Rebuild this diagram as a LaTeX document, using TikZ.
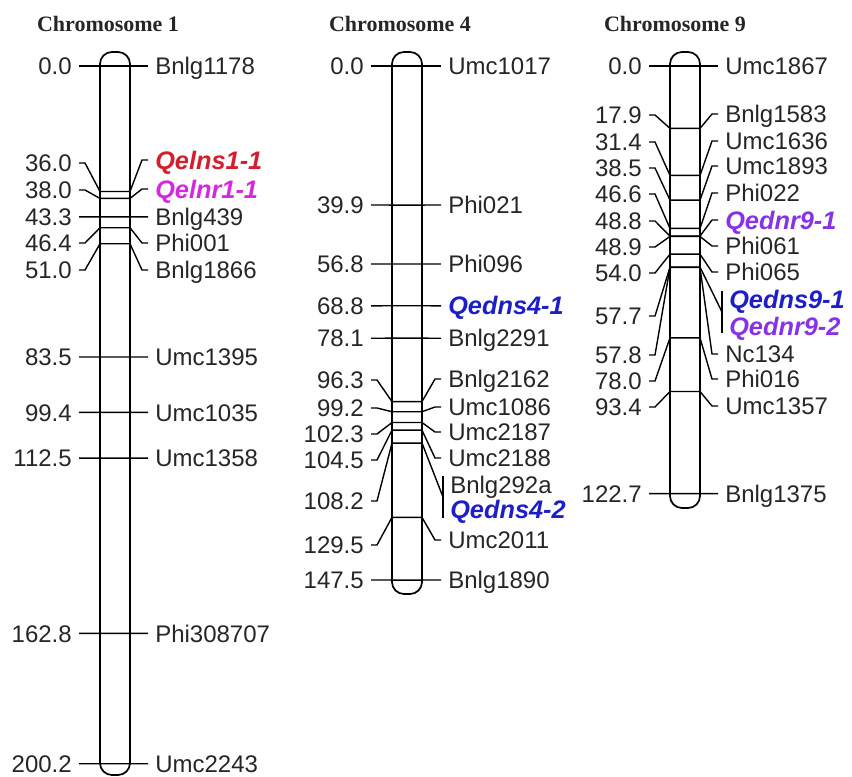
\documentclass[tikz,border=0pt]{standalone}
\usepackage{fontspec}
\setmainfont{Liberation Sans}
\newfontfamily\chrfont{Liberation Serif}

\definecolor{qtlred}{RGB}{212,30,45}
\definecolor{qtlmag}{RGB}{214,40,224}
\definecolor{qtlblue}{RGB}{30,30,200}
\definecolor{qtlpurp}{RGB}{135,50,230}

\tikzset{
  chrbar/.style={draw, line width=1.3pt, rounded corners=9pt},
  link/.style={line width=1.05pt},
  lname/.style={anchor=east, inner xsep=5.25pt, inner ysep=0pt, text height=12.9pt,
    text depth=0pt, text=black!85, font=\fontsize{18}{20}\selectfont},
  rname/.style={lname, anchor=west},
  mrk/.style={},
  qtl/.style={font=\fontsize{19}{21}\selectfont\bfseries\itshape, text height=13.6pt},
  qr/.style={qtl, text=qtlred},
  qm/.style={qtl, text=qtlmag},
  qb/.style={qtl, text=qtlblue},
  qp/.style={qtl, text=qtlpurp},
  chrtitle/.style={font=\fontsize{16.5}{18}\selectfont\chrfont\bfseries, text=black!85}
}

\begin{document}
\begin{tikzpicture}[x=0.75pt, y=-0.75pt]
\useasboundingbox (0,0) rectangle (852,776);

\node[chrtitle] (t1) at (108,24) {Chromosome 1};
\node[chrtitle] (t4) at (400,24) {Chromosome 4};
\node[chrtitle] (t9) at (675,24) {Chromosome 9};

% chromosome 1
\draw[chrbar] (100,52) rectangle (130,775);
\foreach \cm/\ly/\ry/\mk/\st [count=\i] in {0.0/66/66/Bnlg1178/mrk, 36.0/163/160/Qelns1-1/qr,
    38.0/190/189/Qelnr1-1/qm, 43.3/216.9/216.9/Bnlg439/mrk, 46.4/243/243/Phi001/mrk,
    51.0/270/270/Bnlg1866/mrk, 83.5/357/357/Umc1395/mrk, 99.4/412.4/412.4/Umc1035/mrk,
    112.5/458.1/458.1/Umc1358/mrk, 162.8/633.4/633.4/Phi308707/mrk, 200.2/763.7/763.7/Umc2243/mrk}{
  \coordinate (bl1-\i) at (100,{66+3.485*\cm});
  \coordinate (br1-\i) at (130,{66+3.485*\cm});
  \node[lname] (ln1-\i) at (79,\ly) {\cm};
  \node[rname,\st] (rn1-\i) at (148,\ry) {\mk};
  \draw[link] (ln1-\i.east) -- ++(6,0) -- (bl1-\i) -- (br1-\i) -- ([xshift=-4.5pt]rn1-\i.west) -- (rn1-\i.west);
}

% chromosome 4
\draw[chrbar] (392,52) rectangle (422,594);
\foreach \cm/\ly/\ry/\mk/\st [count=\i] in {0.0/66/66/Umc1017/mrk, 39.9/205/205/Phi021/mrk,
    56.8/264/264/Phi096/mrk, 68.8/305.8/305.8/Qedns4-1/qb, 78.1/338.2/338.2/Bnlg2291/mrk,
    96.3/380/379/Bnlg2162/mrk, 99.2/408/407/Umc1086/mrk, 102.3/434/432/Umc2187/mrk,
    104.5/460/458/Umc2188/mrk, 129.5/545/540/Umc2011/mrk, 147.5/580/580/Bnlg1890/mrk}{
  \coordinate (bl4-\i) at (392,{66+3.485*\cm});
  \coordinate (br4-\i) at (422,{66+3.485*\cm});
  \node[lname] (ln4-\i) at (371,\ly) {\cm};
  \node[rname,\st] (rn4-\i) at (441,\ry) {\mk};
  \draw[link] (ln4-\i.east) -- ++(6,0) -- (bl4-\i) -- (br4-\i) -- ([xshift=-4.5pt]rn4-\i.west) -- (rn4-\i.west);
}
\coordinate (bl4-x) at (392,{66+3.485*108.2});
\coordinate (br4-x) at (422,{66+3.485*108.2});
\coordinate (k4a) at (443,476);
\coordinate (k4b) at (443,518);
\coordinate (k4m) at (443,497);
\node[lname] (ln4-x) at (371,501) {108.2};
\node[rname] (rn4-x) at (443,485) {Bnlg292a};
\node[rname,qb] (rn4-y) at (443,509) {Qedns4-2};
\draw[link] (ln4-x.east) -- ++(6,0) -- (bl4-x) -- (br4-x) -- (k4m);
\draw[link] (k4a) -- (k4b);

% chromosome 9
\draw[chrbar] (670,52) rectangle (700,508);
\foreach \cm/\ly/\ry/\mk/\st [count=\i] in {0.0/66/66/Umc1867/mrk, 17.9/115/114/Bnlg1583/mrk,
    31.4/142/141/Umc1636/mrk, 38.5/168/166/Umc1893/mrk, 46.6/194/193/Phi022/mrk,
    48.8/221/220/Qednr9-1/qp, 48.9/247/246/Phi061/mrk, 54.0/273/272/Phi065/mrk,
    57.8/355/354/Nc134/mrk, 78.0/381/379/Phi016/mrk, 93.4/407/406/Umc1357/mrk,
    122.7/493.6/493.6/Bnlg1375/mrk}{
  \coordinate (bl9-\i) at (670,{66+3.485*\cm});
  \coordinate (br9-\i) at (700,{66+3.485*\cm});
  \node[lname] (ln9-\i) at (649,\ly) {\cm};
  \node[rname,\st] (rn9-\i) at (718,\ry) {\mk};
  \draw[link] (ln9-\i.east) -- ++(6,0) -- (bl9-\i) -- (br9-\i) -- ([xshift=-4.5pt]rn9-\i.west) -- (rn9-\i.west);
}
\coordinate (bl9-x) at (670,{66+3.485*57.7});
\coordinate (br9-x) at (700,{66+3.485*57.7});
\coordinate (k9a) at (722,291);
\coordinate (k9b) at (722,333);
\coordinate (k9m) at (722,312);
\node[lname] (ln9-x) at (649,316) {57.7};
\node[rname,qb] (rn9-x) at (722,299) {Qedns9-1};
\node[rname,qp] (rn9-y) at (722,326) {Qednr9-2};
\draw[link] (ln9-x.east) -- ++(6,0) -- (bl9-x) -- (br9-x) -- (k9m);
\draw[link] (k9a) -- (k9b);
\end{tikzpicture}
\end{document}
